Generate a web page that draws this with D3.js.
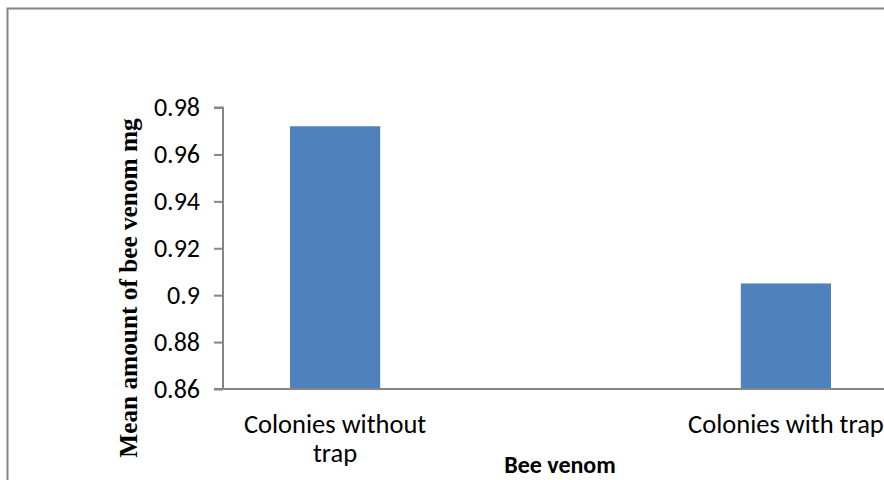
<!DOCTYPE html>
<html>
<head>
<meta charset="utf-8">
<script src="https://cdn.jsdelivr.net/npm/d3@7"></script>
<style>
  html, body { margin: 0; padding: 0; background: #fff; }
  svg { display: block; }
</style>
</head>
<body>
<svg id="chart" width="884" height="480"></svg>
<script>
// Mean bee venom per colony group
const categories = ["Colonies without trap", "Colonies with trap"];
const categoryLines = [["Colonies without", "trap"], ["Colonies with trap"]];
const venomMeans = [0.972, 0.905];
const yTicks = [0.86, 0.88, 0.9, 0.92, 0.94, 0.96, 0.98];
const yTickLabels = ["0.86", "0.88", "0.9", "0.92", "0.94", "0.96", "0.98"];
const yTitle = "Mean amount of bee venom mg";
const xTitle = "Bee venom";

const svg = d3.select("#chart");
const axisColor = "#868686";
const sansFont = "Carlito, Calibri, 'Open Sans', sans-serif";

// outer frame
svg.append("rect")
  .attr("x", 7.5).attr("y", 8.5)
  .attr("width", 900).attr("height", 500)
  .attr("fill", "none")
  .attr("stroke", axisColor)
  .attr("stroke-width", 2);

const x = d3.scaleBand()
  .domain(categories)
  .range([290, 831])
  .paddingInner(0.8)
  .paddingOuter(0);

const y = d3.scaleLinear()
  .domain([0.86, 0.98])
  .range([389, 107.5]);

const plotLeft = 223;
const plotRight = 884;

// bars
svg.append("g")
  .selectAll("rect")
  .data(categories)
  .join("rect")
  .attr("x", d => x(d))
  .attr("width", x.bandwidth())
  .attr("y", (d, i) => y(venomMeans[i]))
  .attr("height", (d, i) => y(0.86) - y(venomMeans[i]))
  .attr("fill", "#4F81BD");

// y axis
const yAxis = d3.axisLeft(y)
  .tickValues(yTicks)
  .tickFormat((d, i) => yTickLabels[i])
  .tickSize(9)
  .tickPadding(14);

const gy = svg.append("g")
  .attr("transform", `translate(${plotLeft},0)`)
  .call(yAxis);
gy.select(".domain").attr("stroke", axisColor).attr("stroke-width", 2)
  .attr("d", `M-9,${y(0.98)}H0V${y(0.86)}`);
gy.selectAll(".tick line").attr("stroke", axisColor).attr("stroke-width", 2);
gy.selectAll(".tick text")
  .attr("fill", "#000")
  .style("font-family", sansFont)
  .style("font-size", "26px");

// x axis baseline
svg.append("line")
  .attr("x1", plotLeft - 9).attr("x2", plotRight)
  .attr("y1", y(0.86)).attr("y2", y(0.86))
  .attr("stroke", axisColor)
  .attr("stroke-width", 2);

// category labels
const catG = svg.append("g")
  .style("font-family", sansFont)
  .style("font-size", "26.5px")
  .attr("fill", "#000")
  .attr("text-anchor", "middle");
categories.forEach((c, i) => {
  const t = catG.append("text")
    .attr("x", x(c) + x.bandwidth() / 2)
    .attr("y", 433);
  categoryLines[i].forEach((line, j) => {
    t.append("tspan")
      .attr("x", x(c) + x.bandwidth() / 2)
      .attr("dy", j === 0 ? 0 : 29)
      .text(line);
  });
});

// axis titles
svg.append("text")
  .attr("x", 560).attr("y", 473)
  .attr("text-anchor", "middle")
  .style("font-family", sansFont)
  .style("font-size", "24px")
  .style("font-weight", "bold")
  .text(xTitle);

svg.append("text")
  .attr("transform", "translate(137,288) rotate(-90)")
  .attr("text-anchor", "middle")
  .style("font-family", "'Liberation Serif', 'Times New Roman', serif")
  .style("font-size", "25.3px")
  .style("font-weight", "bold")
  .text(yTitle);
</script>
</body>
</html>
